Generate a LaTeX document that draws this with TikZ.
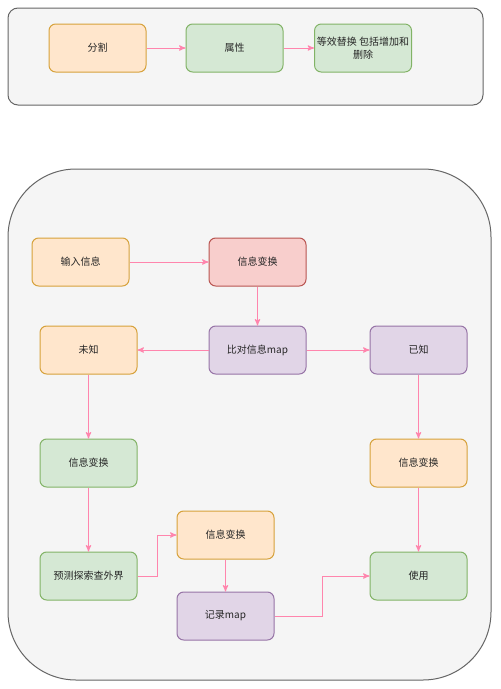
\documentclass[tikz,border=0pt]{standalone}
\usepackage{fontspec}
\setmainfont{Noto Sans CJK SC}
\usepackage{xcolor}
\usetikzlibrary{arrows,calc,positioning}
\definecolor{orangefill}{HTML}{FFE6CC}
\definecolor{orangeline}{HTML}{D6A13A}
\definecolor{greenfill}{HTML}{D5E8D4}
\definecolor{greenline}{HTML}{82B366}
\definecolor{redfill}{HTML}{F8CECC}
\definecolor{redline}{HTML}{B85450}
\definecolor{purplefill}{HTML}{E1D5E7}
\definecolor{purpleline}{HTML}{9673A6}
\definecolor{panelfill}{HTML}{F5F5F5}
\definecolor{panelline}{HTML}{666666}
\definecolor{linkpink}{HTML}{FF6699}
\tikzset{%
	block/.style    = {draw, rectangle, rounded corners=5pt, line width=0.75pt, minimum width=72.75pt, minimum height=36pt, inner sep=1pt, align=center, text=black!85, font=\fontsize{7.5}{9.5}\selectfont},
	orangebox/.style = {fill=orangefill, draw=orangeline}, % Orange
	greenbox/.style  = {fill=greenfill, draw=greenline}, % Green
	redbox/.style    = {fill=redfill, draw=redline}, % Red
	purplebox/.style = {fill=purplefill, draw=purpleline}, % Purple
	panel/.style    = {fill=panelfill, draw=panelline, line width=0.75pt},
	arrow/.style    = {draw=linkpink!80, line width=0.75pt, ->, >=stealth'},
}
\begin{document}
\begin{tikzpicture}[x=0.75pt,y=-0.75pt,node distance=84.75pt]
	\useasboundingbox (0,0) rectangle (500,689);
	\draw[panel, rounded corners=7.5pt] (8,8) rectangle (483,105);
	\draw[panel, rounded corners=51pt] (8,169) rectangle (491,680);

	\node [block,orangebox] (split) at (97.5,48) {分割};
	\node [block,greenbox] (attr) [right of=split,node distance=102.75pt] {属性};
	\node [block,greenbox] (swap) [right of=attr,node distance=96.4pt] {等效替换 包括增加和\\删除};

	\draw[arrow] (split) -- (attr);
	\draw[arrow] (attr) -- (swap);

	\node [block,orangebox] (input) at (80.5,262) {输入信息};
	\node [block,redbox] (trans) [right of=input,node distance=132.75pt] {信息变换};
	\node [block,purplebox] (compare) [below of=trans,node distance=66pt] {比对信息map};
	\node [block,orangebox] (unknown) [left of=compare,node distance=126.75pt] {未知};
	\node [block,purplebox] (known) [right of=compare,node distance=120.75pt] {已知};
	\node [block,greenbox] (transL) [below of=unknown] {信息变换};
	\node [block,orangebox] (transR) [below of=known] {信息变换};
	\node [block,greenbox] (probe) [below of=transL] {预测探索查外界};
	\node [block,greenbox] (use) [below of=transR] {使用};
	\node [block,orangebox] (transM) at (225.5,535) {信息变换};
	\node [block,purplebox] (record) [below of=transM,node distance=60.75pt] {记录map};

	\draw[arrow] (input) -- (trans);
	\draw[arrow] (trans) -- (compare);
	\draw[arrow] (compare) -- (unknown);
	\draw[arrow] (compare) -- (known);
	\draw[arrow] (unknown) -- (transL);
	\draw[arrow] (transL) -- (probe);
	\draw[arrow] (known) -- (transR);
	\draw[arrow] (transR) -- (use);
	\draw[arrow] (probe.east) -- ++(20,0) |- (transM.west);
	\draw[arrow] (transM) -- (record);
	\draw[arrow] (record.east) -- ++(48,0) |- (use.west);
\end{tikzpicture}
\end{document}
